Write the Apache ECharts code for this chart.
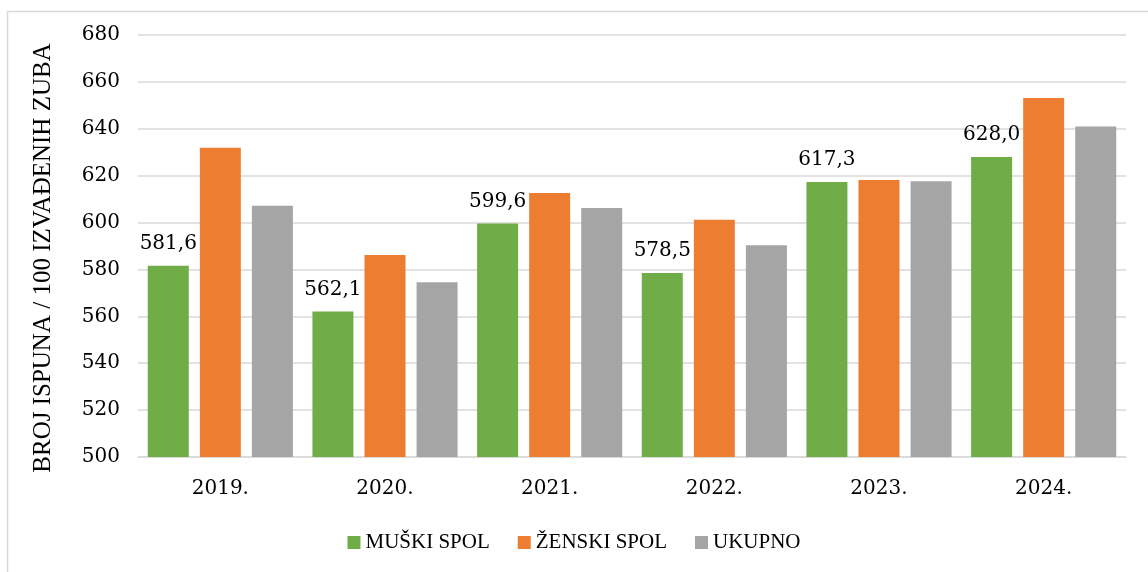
<!DOCTYPE html>
<html>
<head>
<meta charset="utf-8">
<style>
  html, body { margin: 0; padding: 0; background: #fff; }
  #chart { width: 1148px; height: 572px; }
</style>
<script src="https://cdn.jsdelivr.net/npm/echarts@6/dist/echarts.min.js"></script>
</head>
<body>
<div id="chart"></div>
<script>
  // podaci
  var godine = ['2019.', '2020.', '2021.', '2022.', '2023.', '2024.'];
  var muski = [581.6, 562.1, 599.6, 578.5, 617.3, 628.0];
  var zenski = [631.9, 586.2, 612.6, 601.2, 618.2, 653.1];
  var ukupno = [607.2, 574.5, 606.2, 590.3, 617.6, 641.0];
  var yTicks = { min: 500, max: 680, interval: 20 };

  var numFont = 'DejaVu Serif';
  var txtFont = 'Liberation Serif';

  var chart = echarts.init(document.getElementById('chart'));
  var option = {
    backgroundColor: '#fff',
    animation: false,
    graphic: [{
      type: 'rect',
      shape: { x: 7.5, y: 11.5, width: 1160, height: 600 },
      style: { fill: 'none', stroke: '#d9d9d9', lineWidth: 1.5 },
      silent: true
    }],
    grid: { left: 138, right: 22, top: 35, bottom: 115 },
    legend: {
      bottom: 14,
      left: 'center',
      icon: 'rect',
      itemWidth: 13,
      itemHeight: 13,
      itemGap: 28,
      textStyle: { fontFamily: txtFont, fontSize: 21, color: '#000' },
      data: ['MUŠKI SPOL', 'ŽENSKI SPOL', 'UKUPNO']
    },
    xAxis: {
      type: 'category',
      data: godine,
      axisLine: { lineStyle: { color: '#d9d9d9', width: 1.5 } },
      axisTick: { show: false },
      axisLabel: { fontFamily: numFont, fontSize: 20, color: '#000', margin: 22 }
    },
    yAxis: {
      type: 'value',
      min: yTicks.min,
      max: yTicks.max,
      interval: yTicks.interval,
      name: 'BROJ ISPUNA / 100 IZVAĐENIH ZUBA',
      nameLocation: 'middle',
      nameGap: 82,
      nameTextStyle: { fontFamily: txtFont, fontSize: 25, color: '#000', padding: [0, 24, 0, 0] },
      axisLine: { show: false },
      axisTick: { show: false },
      axisLabel: { fontFamily: numFont, fontSize: 20, color: '#000', margin: 18 },
      splitLine: { lineStyle: { color: '#d9d9d9', width: 1.5 } }
    },
    series: [{
      name: 'MUŠKI SPOL',
      type: 'bar',
      data: muski,
      barWidth: 41,
      barGap: '27%',
      itemStyle: { color: '#70AD47' },
      label: {
        show: true,
        position: 'top',
        distance: 12,
        fontFamily: numFont,
        fontSize: 20,
        color: '#000',
        formatter: function(p) { return p.value.toFixed(1).replace('.', ','); }
      }
    }, {
      name: 'ŽENSKI SPOL',
      type: 'bar',
      data: zenski,
      barWidth: 41,
      barGap: '27%',
      itemStyle: { color: '#ED7D31' }
    }, {
      name: 'UKUPNO',
      type: 'bar',
      data: ukupno,
      barWidth: 41,
      barGap: '27%',
      itemStyle: { color: '#A5A5A5' }
    }]
  };
  chart.setOption(option);
</script>
</body>
</html>
